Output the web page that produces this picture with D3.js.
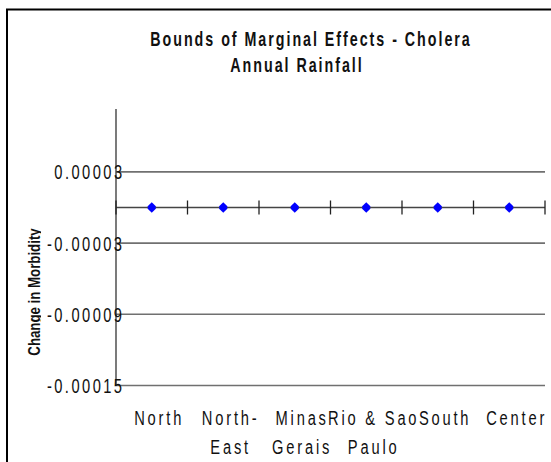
<!DOCTYPE html>
<html>
<head>
<meta charset="utf-8">
<script src="https://cdn.jsdelivr.net/npm/d3@7/dist/d3.min.js"></script>
<style>
  html, body { margin: 0; padding: 0; background: #fff; }
  svg { display: block; }
  text { font-family: "Liberation Sans", Arial, sans-serif; fill: #111; }
</style>
</head>
<body>
<svg id="chart" width="551" height="462"></svg>
<script>
// Regions of Brazil and the bounds of the marginal effect of annual rainfall
const regions = ["North", "North-East", "Minas Gerais", "Rio & Sao Paulo", "South", "Center"];
const regionLines = [["North"], ["North-", "East"], ["Minas", "Gerais"], ["Rio & Sao", "Paulo"], ["South"], ["Center"]];
const upperBound = [0.0000008, 0.0000008, 0.0000008, 0.0000008, 0.0000008, 0.0000008];
const lowerBound = [-0.0000008, -0.0000008, -0.0000008, -0.0000008, -0.0000008, -0.0000008];
const yTicks = [0.00003, -0.00003, -0.00009, -0.00015];
const yTickLabels = ["0.00003", "-0.00003", "-0.00009", "-0.00015"];

const svg = d3.select("#chart");

// condensed text: a group scaled horizontally holds the real text
function narrowText(parent, tx, ty, sx, rotate) {
  return parent.append("g")
    .attr("transform", `translate(${tx},${ty})` + (rotate ? ` rotate(${rotate})` : "") + ` scale(${sx},1)`)
    .append("text");
}

// chart frame
svg.append("path")
  .attr("d", "M7,462 V9.5 H551")
  .attr("fill", "none").attr("stroke", "#000").attr("stroke-width", 2);

const x = d3.scaleBand().domain(regions).range([116, 545]).paddingInner(0).paddingOuter(0);
const y = d3.scaleLinear().domain([-0.00015, 0.000083]).range([385.5, 109]);

// horizontal gridlines
svg.append("g").selectAll("line").data(yTicks).join("line")
  .attr("x1", 116).attr("x2", 545)
  .attr("y1", d => y(d)).attr("y2", d => y(d))
  .attr("stroke", "#707070").attr("stroke-width", 1.6);

// value axis
svg.append("line")
  .attr("x1", 116).attr("x2", 116)
  .attr("y1", y.range()[1]).attr("y2", y.range()[0])
  .attr("stroke", "#333").attr("stroke-width", 1.3);

// zero line acting as category axis, with crossing ticks at band edges
const y0 = y(0);
svg.append("line")
  .attr("x1", 116).attr("x2", 545).attr("y1", y0).attr("y2", y0)
  .attr("stroke", "#444").attr("stroke-width", 1.6);
const edges = regions.map(r => x(r)).concat([x.range()[1]]);
svg.append("g").selectAll("line").data(edges).join("line")
  .attr("x1", d => d).attr("x2", d => d)
  .attr("y1", y0 - 7).attr("y2", y0 + 7)
  .attr("stroke", "#222").attr("stroke-width", 1.3);

// y tick labels
const tickG = svg.append("g");
yTicks.forEach((v, i) => {
  narrowText(tickG, 124.5, y(v), 0.7)
    .attr("dy", "0.36em")
    .attr("text-anchor", "end")
    .style("font-size", "21px").style("letter-spacing", "3.5px")
    .text(yTickLabels[i]);
});

// category labels
const catG = svg.append("g");
regions.forEach((r, i) => {
  const t = narrowText(catG, x(r) + x.bandwidth() / 2 + 7.4, 425, 0.7)
    .attr("text-anchor", "middle")
    .style("font-size", "21px").style("letter-spacing", "4px");
  regionLines[i].forEach((line, k) => {
    t.append("tspan").attr("x", 0).attr("y", k * 29).text(line);
  });
});

// bound markers
const marker = d3.symbol().type(d3.symbolSquare).size(38);
const marks = svg.append("g").attr("fill", "#0000ff");
[upperBound, lowerBound].forEach(series => {
  marks.selectAll(null).data(series).join("path")
    .attr("d", marker)
    .attr("transform", (d, i) => `translate(${x(regions[i]) + x.bandwidth() / 2},${y(d)}) rotate(45)`);
});

// titles
narrowText(svg, 311, 46, 0.68)
  .attr("text-anchor", "middle")
  .style("font-size", "21px").style("font-weight", "bold").style("letter-spacing", "2.9px")
  .text("Bounds of Marginal Effects - Cholera");
narrowText(svg, 297, 72, 0.68)
  .attr("text-anchor", "middle")
  .style("font-size", "21px").style("font-weight", "bold").style("letter-spacing", "2.9px")
  .text("Annual Rainfall");

// axis title; descenders fall outside the text box
svg.append("clipPath").attr("id", "ytitle-clip")
  .append("rect").attr("x", 0).attr("y", 150).attr("width", 41).attr("height", 260);
svg.append("g").attr("clip-path", "url(#ytitle-clip)")
  .call(g => narrowText(g, 39.5, 292, 0.78, -90)
    .attr("text-anchor", "middle")
    .style("font-size", "17px").style("font-weight", "bold")
    .text("Change in Morbidity"));
</script>
</body>
</html>
